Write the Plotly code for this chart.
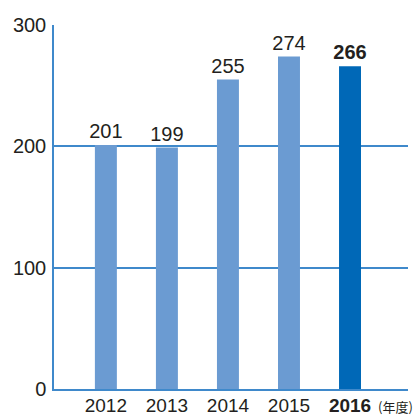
import plotly.graph_objects as go

years = [2012, 2013, 2014, 2015, 2016]
values = [201, 199, 255, 274, 266]
tick_labels = ["2012", "2013", "2014", "2015", "<b>2016</b>"]
unit_label = "(年度)"

LIGHT = "#6b9bd2"
DARK = "#0068b7"
GRID = "#3f89cb"
INK = "#231f20"
FONT = "Liberation Sans, Arial, sans-serif"

bar_colors = [LIGHT] * (len(years) - 1) + [DARK]
bar_text = [str(v) for v in values[:-1]] + [f"<b>{values[-1]}</b>"]

fig = go.Figure(
    go.Bar(
        x=years,
        y=values,
        width=0.36,
        marker=dict(color=bar_colors, line=dict(width=0)),
        text=bar_text,
        textposition="outside",
        constraintext="none",
        textfont=dict(size=20, color=INK, family=FONT),
        cliponaxis=False,
        hoverinfo="skip",
    )
)

fig.add_annotation(
    text=unit_label,
    xref="paper", yref="paper",
    x=1.02, y=0, yshift=-17,
    xanchor="right", yanchor="middle",
    showarrow=False,
    font=dict(size=13, color=INK, family="Noto Sans CJK JP, sans-serif"),
)

fig.update_layout(
    width=417,
    height=417,
    margin=dict(l=54, r=9, t=25, b=28),
    paper_bgcolor="white",
    plot_bgcolor="white",
    showlegend=False,
    font=dict(family=FONT, color=INK, size=20),
)

fig.update_xaxes(
    range=[2011.15, 2016.95],
    tickvals=years,
    ticktext=tick_labels,
    tickfont=dict(size=19, color=INK),
    showgrid=False,
    showline=True,
    linecolor=GRID,
    linewidth=1.5,
    ticks="",
    zeroline=False,
    automargin=False,
    ticklabelstandoff=-2,
)

fig.update_yaxes(
    range=[0, 300],
    tickvals=[0, 100, 200, 300],
    tickfont=dict(size=20, color=INK),
    showgrid=True,
    gridcolor=GRID,
    gridwidth=1.5,
    showline=True,
    linecolor=GRID,
    linewidth=1.5,
    zeroline=False,
    ticks="",
    automargin=False,
    ticklabelstandoff=2,
)

fig.write_html("out.html")
